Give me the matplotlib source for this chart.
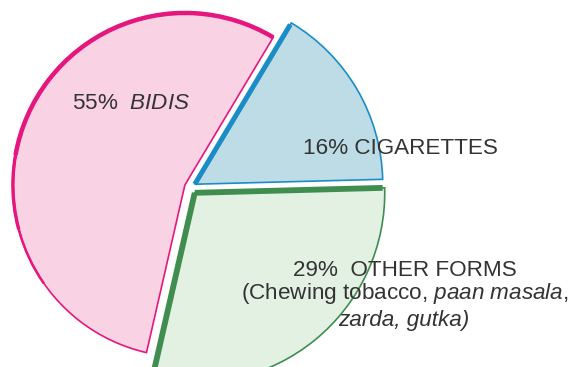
import numpy as np
import matplotlib
matplotlib.use('Agg')
from matplotlib import pyplot as plt
from matplotlib.patches import Arc

# tobacco use by form, percent
shares = [16, 55, 29]
names = ['CIGARETTES', 'BIDIS', 'OTHER FORMS']

fills = ['#bddce6', '#f9d2e3', '#e3f1e3']
edges = ['#1b8cc6', '#e5177e', '#3f8e50']
radii = [188, 172, 190]

plt.rcParams['font.family'] = ['Liberation Sans', 'DejaVu Sans']
plt.rcParams['mathtext.fontset'] = 'custom'
plt.rcParams['mathtext.rm'] = 'Liberation Sans'
plt.rcParams['mathtext.it'] = 'Liberation Sans:italic'

fig = plt.figure(figsize=(5.74, 3.67), dpi=100)
ax = fig.add_axes([0, 0, 1, 1])
# explode offsets are in data units here (pixels), since radius isn't 1
wedges, _ = ax.pie(shares, startangle=1.5, radius=180, center=(190, 180),
                   explode=[5.5, 5.5, 7.5], colors=fills, frame=False)
ax.set_xlim(0, 574)
ax.set_ylim(0, 367)
ax.set_aspect('equal')
ax.axis('off')

for w, ec, r in zip(wedges, edges, radii):
    w.set_radius(r)
    w.set_edgecolor(ec)
    w.set_linewidth(1.2)


def radial(w, theta, lw):
    cx, cy = w.center
    t = np.radians(theta)
    ax.plot([cx, cx + (w.r - 2) * np.cos(t)], [cy, cy + (w.r - 2) * np.sin(t)],
            color=w.get_edgecolor(), lw=lw, solid_capstyle='butt')


blue, pink, green = wedges

# heavy rim along the top of the bidis slice, tapering on the left
for end, lw in [(215, 1.8), (195, 2.4), (170, 3.2)]:
    ax.add_patch(Arc(pink.center, 2 * pink.r, 2 * pink.r, theta1=pink.theta1, theta2=end,
                     color=edges[1], lw=lw, capstyle='butt'))

radial(blue, blue.theta2, 3.6)
radial(green, green.theta1, 4.2)
radial(green, green.theta2, 4.2)

txt = '#333333'
fs = 16.2
ax.text(131, 258, '55%  $\\mathit{BIDIS}$', fontsize=fs, color=txt, ha='center', va='baseline')
ax.text(400, 213, '16% ' + names[0], fontsize=fs, color=txt, ha='center', va='baseline')
ax.text(405, 91, '29%  ' + names[2], fontsize=fs, color=txt, ha='center', va='baseline')
ax.text(405, 68, '(Chewing tobacco, $\\mathit{paan\\ masala,}$', fontsize=fs, color=txt,
        ha='center', va='baseline')
ax.text(404, 41, 'zarda, gutka)', fontsize=fs, color=txt, style='italic',
        ha='center', va='baseline')

fig.savefig('out.png', dpi=100)
